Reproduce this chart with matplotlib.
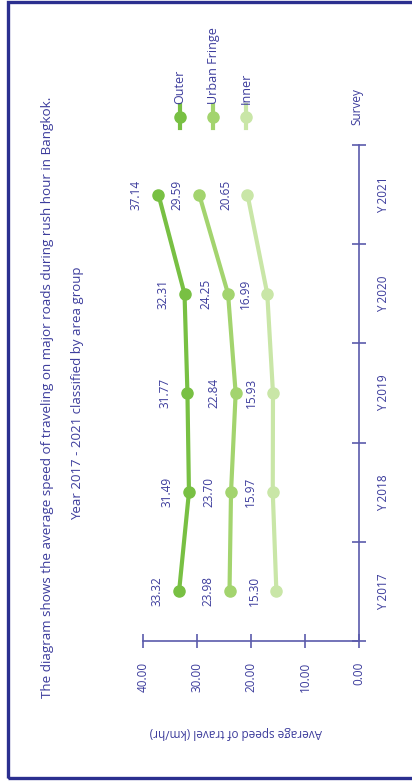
import numpy as np
import matplotlib
matplotlib.use('Agg')
import matplotlib.pyplot as plt
from matplotlib.lines import Line2D
from matplotlib.patches import Rectangle

plt.rcParams['font.family'] = ['Open Sans', 'DejaVu Sans']

years = ['Y 2017', 'Y 2018', 'Y 2019', 'Y 2020', 'Y 2021']
outer = [33.32, 31.49, 31.77, 32.31, 37.14]
fringe = [23.98, 23.70, 22.84, 24.25, 29.59]
inner = [15.30, 15.97, 15.93, 16.99, 20.65]
series_names = ['Outer', 'Urban Fringe', 'Inner']
colors = ['#78c043', '#a3d46e', '#c9e6a7']

txt = '#3c3c9c'
axc = '#5b5bab'
W, H = 412, 781

fig = plt.figure(figsize=(4.12, 7.81), dpi=100)
fig.patch.set_facecolor('white')

# frame round the picture (right side runs off the edge like the scan)
fig.patches.append(Rectangle((8 / W, 3 / H), 1.0, 1 - 5 / H, transform=fig.transFigure,
                             fill=False, edgecolor='#2b2f8f', linewidth=2.4))

ax = fig.add_axes([143 / W, 140 / H, 216 / W, 496 / H])
ax.set_facecolor('none')
pos = np.arange(len(years))

for vals, c in zip([outer, fringe, inner], colors):
    ax.plot(vals, pos, '-o', color=c, linewidth=3, markersize=8, solid_capstyle='round', clip_on=False)
    for v, p in zip(vals, pos):
        ax.annotate(f'{v:.2f}', (v, p), xytext=(-22, 0), textcoords='offset pixels',
                    rotation=90, ha='center', va='center', color=txt, fontsize=8.5)

ax.set_xlim(40, 0)
ax.set_ylim(-0.5, len(years) - 0.5)
for s in ['top', 'left']:
    ax.spines[s].set_visible(False)
for s in ['bottom', 'right']:
    ax.spines[s].set_color(axc)
    ax.spines[s].set_linewidth(1.2)

ax.set_xticks([0, 10, 20, 30, 40])
ax.set_xticklabels([f'{t:.2f}' for t in [0, 10, 20, 30, 40]], rotation=90, va='top', ha='center')
ax.tick_params(axis='x', direction='inout', length=10, width=1.2, color=axc, labelcolor=txt,
               labelsize=8.5, pad=10)

ax.yaxis.tick_right()
ax.set_yticks(pos)
ax.set_yticklabels(years, rotation=90, va='center', ha='left')
ax.set_yticks(np.arange(-0.5, len(years), 1.0), minor=True)
ax.tick_params(axis='y', which='major', length=0, labelcolor=txt, labelsize=8.5, pad=13)
ax.tick_params(axis='y', which='minor', direction='inout', length=10, width=1.2, color=axc)

fig.text(357 / W, 1 - 107 / H, 'Survey', rotation=90, ha='center', va='center', color=txt, fontsize=8.5)
fig.text(236 / W, 1 - 732 / H, 'Average speed of travel (km/hr)', rotation=180, ha='center',
         va='center', color=txt, fontsize=8.5)

fig.text(48 / W, 1 - 397 / H,
         'The diagram shows the average speed of traveling on major roads during rush hour in Bangkok.',
         rotation=90, ha='center', va='center', color=txt, fontsize=9.7)
fig.text(78 / W, 1 - 393 / H, 'Year 2017 - 2021 classified by area group',
         rotation=90, ha='center', va='center', color=txt, fontsize=9.5)

# legend, drawn by hand because it is turned as well
for i, (name, c) in enumerate(zip(series_names, colors)):
    lx = (180 + 33 * i) / W
    fig.add_artist(Line2D([lx, lx], [1 - 128 / H, 1 - 105 / H], color=c, linewidth=3,
                          transform=fig.transFigure))
    fig.add_artist(Line2D([lx], [1 - 117 / H], marker='o', markersize=8, color=c,
                          transform=fig.transFigure))
    fig.text(lx, 1 - 104 / H, name, rotation=90, ha='center', va='bottom', color=txt, fontsize=9)

fig.savefig('out.png', dpi=100)
